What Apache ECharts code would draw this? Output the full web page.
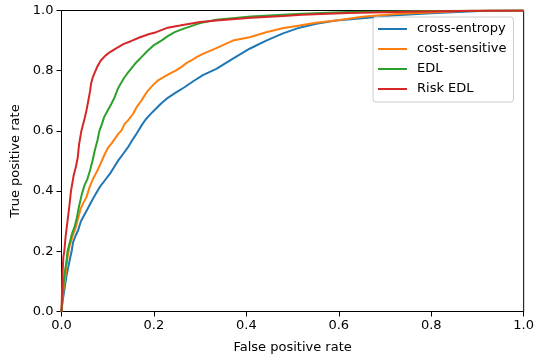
<!DOCTYPE html>
<html>
<head>
<meta charset="utf-8">
<script src="https://cdn.jsdelivr.net/npm/echarts@6/dist/echarts.min.js"></script>
<style>html,body{margin:0;padding:0;background:#fff}#c{width:537px;height:360px}</style>
</head>
<body>
<div id="c"></div>
<script>
const seriesNames = ['cross-entropy', 'cost-sensitive', 'EDL', 'Risk EDL'];
const xTicks = [0, 0.2, 0.4, 0.6, 0.8, 1.0];
const yTicks = [0, 0.2, 0.4, 0.6, 0.8, 1.0];

const ceFpr = [0,0.002,0.005,0.008,0.011,0.015,0.019,0.022,0.025,0.030,0.036,0.042,0.049,0.056,0.066,0.074,0.083,0.094,0.105,0.114,0.123,0.134,0.144,0.153,0.160,0.166,0.174,0.182,0.192,0.202,0.215,0.230,0.248,0.266,0.285,0.306,0.335,0.371,0.407,0.443,0.478,0.515,0.551,0.594,0.651,0.723,0.80,0.88,0.93,1];
const ceTpr = [0,0.03,0.06,0.09,0.12,0.15,0.18,0.20,0.23,0.25,0.27,0.30,0.32,0.34,0.369,0.39,0.414,0.436,0.458,0.48,0.502,0.525,0.546,0.569,0.585,0.60,0.62,0.638,0.655,0.67,0.69,0.71,0.728,0.745,0.765,0.785,0.806,0.840,0.873,0.900,0.923,0.943,0.956,0.967,0.974,0.984,0.991,0.997,1.0,1];

const csFpr = [0,0.002,0.004,0.007,0.010,0.013,0.018,0.024,0.031,0.036,0.041,0.047,0.054,0.061,0.068,0.078,0.087,0.094,0.101,0.108,0.116,0.123,0.130,0.137,0.144,0.155,0.163,0.173,0.180,0.187,0.198,0.209,0.22,0.234,0.247,0.259,0.27,0.281,0.294,0.306,0.335,0.371,0.407,0.443,0.478,0.515,0.551,0.594,0.651,0.723,0.795,0.88,1];
const csTpr = [0,0.04,0.07,0.10,0.14,0.18,0.22,0.25,0.28,0.31,0.34,0.36,0.38,0.414,0.44,0.469,0.50,0.524,0.545,0.558,0.575,0.59,0.602,0.624,0.635,0.657,0.68,0.701,0.718,0.734,0.752,0.768,0.778,0.79,0.80,0.812,0.825,0.834,0.847,0.856,0.875,0.900,0.911,0.928,0.941,0.950,0.959,0.967,0.979,0.988,0.993,0.999,1];

const edlFpr = [0,0.002,0.004,0.006,0.008,0.011,0.013,0.018,0.023,0.028,0.033,0.038,0.044,0.050,0.056,0.062,0.067,0.072,0.078,0.082,0.088,0.092,0.100,0.108,0.115,0.122,0.128,0.135,0.142,0.150,0.159,0.173,0.187,0.200,0.216,0.23,0.245,0.263,0.30,0.335,0.41,0.52,0.62,0.8,1];
const edlTpr = [0,0.04,0.08,0.12,0.14,0.17,0.20,0.23,0.26,0.28,0.31,0.35,0.39,0.42,0.44,0.47,0.50,0.535,0.57,0.60,0.625,0.645,0.668,0.69,0.712,0.74,0.757,0.775,0.79,0.805,0.823,0.845,0.867,0.885,0.90,0.915,0.928,0.939,0.958,0.969,0.980,0.989,0.995,0.998,1];

const rEdlFpr = [0,0.001,0.002,0.004,0.006,0.009,0.013,0.017,0.0205,0.026,0.031,0.035,0.038,0.043,0.049,0.054,0.058,0.062,0.064,0.067,0.071,0.077,0.085,0.095,0.105,0.12,0.135,0.15,0.17,0.19,0.205,0.23,0.256,0.30,0.335,0.41,0.48,0.52,0.62,0.75,0.9,1];
const rEdlTpr = [0,0.06,0.12,0.18,0.20,0.25,0.30,0.35,0.40,0.45,0.48,0.51,0.555,0.60,0.635,0.668,0.70,0.734,0.757,0.775,0.79,0.812,0.834,0.85,0.862,0.876,0.889,0.898,0.911,0.922,0.928,0.943,0.950,0.962,0.967,0.976,0.982,0.986,0.992,0.996,0.999,1];

const colors = ['#1f77b4', '#ff7f0e', '#2ca02c', '#d62728'];
const xs = [ceFpr, csFpr, edlFpr, rEdlFpr];
const ys = [ceTpr, csTpr, edlTpr, rEdlTpr];

const font = 'DejaVu Sans';
const chart = echarts.init(document.getElementById('c'), null, {renderer: 'canvas'});
chart.setOption({
  animation: false,
  backgroundColor: '#fff',
  color: colors,
  grid: {left: 61.5, top: 10.5, right: 12, bottom: 48.5, show: true, borderColor: '#000', borderWidth: 1, backgroundColor: 'transparent'},
  legend: {
    data: seriesNames,
    orient: 'vertical',
    left: 373, top: 17,
    icon: 'rect', itemWidth: 29, itemHeight: 2,
    itemGap: 0,
    padding: [2, 7, 3, 5],
    backgroundColor: 'rgba(255,255,255,0.8)',
    borderColor: '#cccccc', borderWidth: 1, borderRadius: 3,
    textStyle: {fontFamily: font, fontSize: 13, color: '#000', lineHeight: 20, padding: [0, 0, 0, 5]}
  },
  xAxis: {
    type: 'value', min: xTicks[0], max: xTicks[xTicks.length - 1], interval: 0.2,
    name: 'False positive rate', nameLocation: 'middle', nameGap: 30,
    nameTextStyle: {fontFamily: font, fontSize: 13, color: '#000'},
    axisLine: {show: true, lineStyle: {color: '#000', width: 1}},
    axisTick: {show: true, length: 5, lineStyle: {color: '#000'}},
    axisLabel: {fontFamily: font, fontSize: 13, color: '#000', margin: 8, formatter: v => v.toFixed(1)},
    splitLine: {show: false}
  },
  yAxis: {
    type: 'value', min: yTicks[0], max: yTicks[yTicks.length - 1], interval: 0.2,
    name: 'True positive rate', nameLocation: 'middle', nameGap: 36,
    nameTextStyle: {fontFamily: font, fontSize: 13, color: '#000'},
    axisLine: {show: true, lineStyle: {color: '#000', width: 1}},
    axisTick: {show: true, length: 5, lineStyle: {color: '#000'}},
    axisLabel: {fontFamily: font, fontSize: 13, color: '#000', margin: 8, formatter: v => v.toFixed(1)},
    splitLine: {show: false}
  },
  series: seriesNames.map((n, i) => ({
    name: n, type: 'line', showSymbol: false, symbol: 'none',
    lineStyle: {width: 2, color: colors[i]},
    itemStyle: {color: colors[i]},
    z: 2 + i,
    data: xs[i].map((x, j) => [x, ys[i][j]])
  }))
});
</script>
</body>
</html>
